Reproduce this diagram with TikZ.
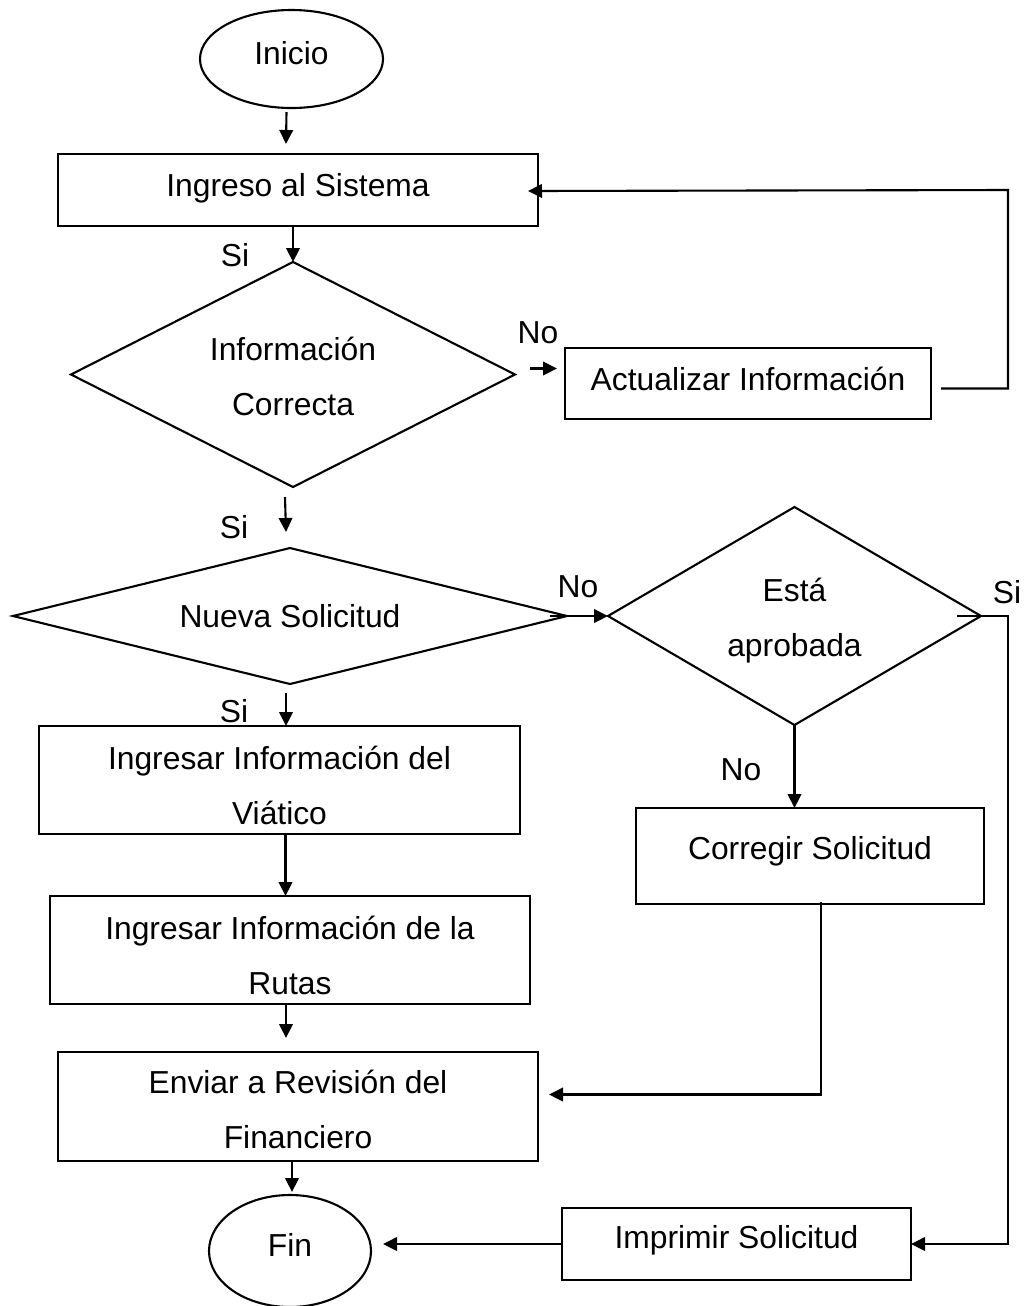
\documentclass[tikz,border=0pt]{standalone}
\usepackage{fontspec}
\setmainfont{Liberation Sans}
\usetikzlibrary{shapes.geometric,arrows.meta,calc}
\newcommand\flowfont{\fontsize{18.1pt}{31.3pt}\selectfont}
\begin{document}
\begin{tikzpicture}[x=0.02cm,y=-0.02cm,
  every node/.style={font=\flowfont, inner sep=0pt, outer sep=0pt},
  procbox/.style={draw, line width=1.3pt, rectangle, align=center},
  decision/.style={draw, line width=1.2pt, diamond, align=center},
  terminal/.style={draw, line width=1.2pt, ellipse, align=center},
  arr/.style={line width=1.2pt, -{Triangle[length=0.28cm,width=0.27cm]}}]
\useasboundingbox (0,0) rectangle (1029,1306);

% shapes
\node[terminal, minimum width=183*0.02cm, minimum height=98*0.02cm, text depth=0.24cm] (inicio) at (291.5,59) {Inicio};
\node[procbox, minimum width=480*0.02cm, minimum height=72*0.02cm, text depth=0.21cm] (ingreso) at (298,190) {Ingreso al Sistema};
\node[decision, shape aspect=1.97, minimum width=444*0.02cm, minimum height=225*0.02cm, text height=1.66cm] (info) at (293,374.5) {Información\\Correcta};
\node[procbox, minimum width=366*0.02cm, minimum height=71*0.02cm, text depth=0.2cm] (actualizar) at (748,383.5) {Actualizar Información};
\node[decision, shape aspect=4.07, minimum width=554*0.02cm, minimum height=136*0.02cm] (nueva) at (290,616) {Nueva Solicitud};
\node[decision, shape aspect=1.71, minimum width=373*0.02cm, minimum height=218*0.02cm, text height=1.74cm] (esta) at (794.5,616) {Está\\aprobada};
\node[procbox, minimum width=481*0.02cm, minimum height=108*0.02cm, text height=1.77cm] (ingA) at (279.5,780) {Ingresar Información del\\Viático};
\node[procbox, minimum width=480*0.02cm, minimum height=108*0.02cm, text height=1.77cm] (ingB) at (290,950) {Ingresar Información de la\\Rutas};
\node[procbox, minimum width=348*0.02cm, minimum height=96*0.02cm, text depth=0.33cm] (corregir) at (810,856) {Corregir Solicitud};
\node[procbox, minimum width=480*0.02cm, minimum height=109*0.02cm, text height=1.70cm] (enviar) at (298,1106.5) {Enviar a Revisión del\\Financiero};
\node[terminal, minimum width=162*0.02cm, minimum height=112*0.02cm, text depth=0.24cm] (fin) at (290,1251) {Fin};
\node[procbox, minimum width=349*0.02cm, minimum height=72*0.02cm, text depth=0.29cm] (imprimir) at (736.5,1244) {Imprimir Solicitud};

% branch labels
\node (si1) at (235,255) {Si};
\node (no1) at (538,333) {No};
\node (si2) at (234,527) {Si};
\node (no2) at (578,587) {No};
\node (si3) at (1007,592) {Si};
\node (si4) at (234,711) {Si};
\node (no3) at (741,770) {No};

% right-hand rail shared by the loop and the approved branch
\coordinate (rail) at (1008,0);
\coordinate (actout) at ($(actualizar.east)+(10,5)$);

% connectors
\draw[arr] ($(inicio.south)+(-5,4)$) -- ($(ingreso.north)+(-12,-10)$);
\draw[arr] (ingreso.south -| info.north) -- (info.north);
\draw[arr] ($(info.east)+(15,-6)$) -- ($(actualizar.west |- info.east)+(-8,-6)$);
\draw[arr] (actout) -| (rail |- ingreso.east) -- ($(ingreso.east)+(-10,1)$);
\draw[arr] ($(info.south)+(-8,10)$) -- ($(nueva.north)+(-4,-16)$);
\draw[arr] ($(nueva.east)+(-17,0)$) -- (esta.west);
\draw[arr] ($(esta.east)+(-24,0)$) -| (rail |- imprimir.east) -- (imprimir.east);
\draw[arr] (esta.south) -- (esta.south |- corregir.north);
\draw[arr] ($(corregir.south)+(11,-2)$) |- ($(enviar.east)+(11,-12)$);
\draw[arr] ($(nueva.south)+(-4,9)$) -- ($(nueva.south |- ingA.north)+(-4,0)$);
\draw[arr] ($(ingA.south)+(6,0)$) -- ($(ingA.south |- ingB.north)+(6,0)$);
\draw[arr] ($(ingB.south)+(-4,0)$) -- ($(ingB.south |- enviar.north)+(-4,-14)$);
\draw[arr] ($(enviar.south)+(-6,0)$) -- ($(enviar.south |- fin.north)+(-6,-3)$);
\draw[arr] (imprimir.west) -- ($(fin.east |- imprimir.west)+(12,0)$);
\end{tikzpicture}
\end{document}
